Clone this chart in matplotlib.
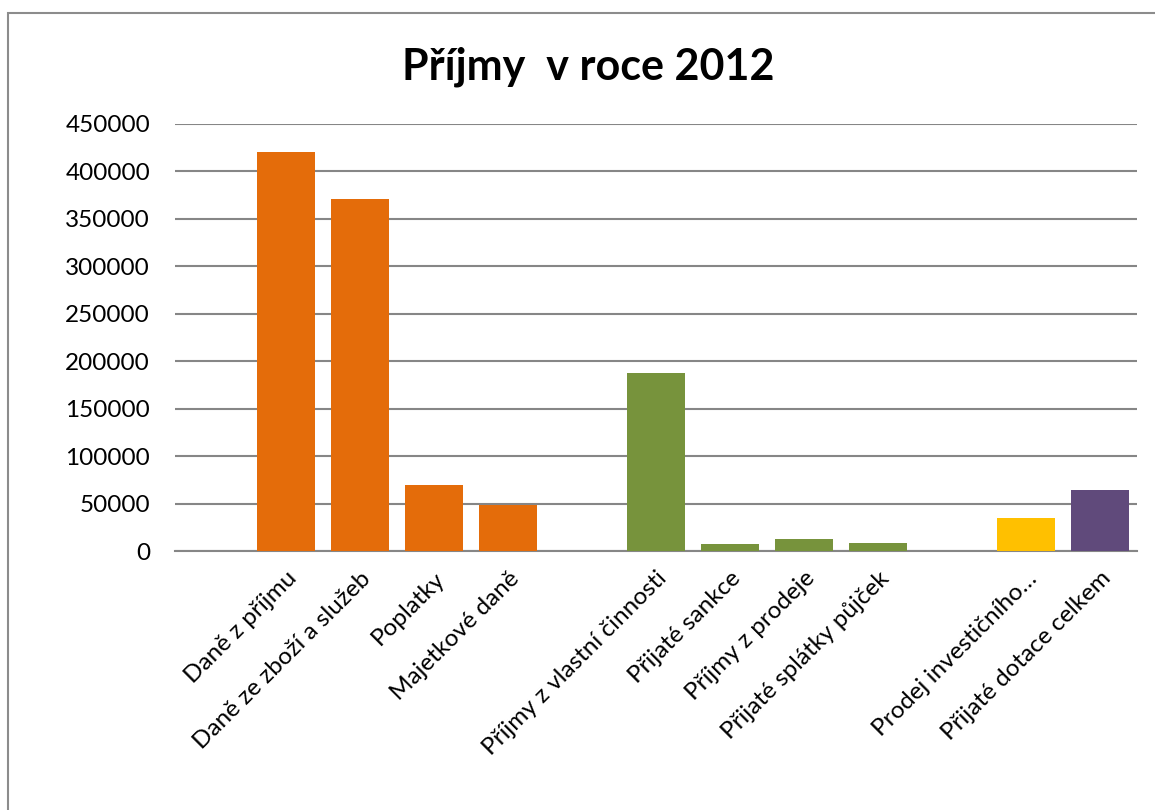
import matplotlib.pyplot as plt
from matplotlib.patches import Rectangle

# data
categories = ['', 'Daně z příjmu', 'Daně ze zboží a služeb', 'Poplatky', 'Majetkové daně', '',
              'Příjmy z vlastní činnosti', 'Přijaté sankce', 'Příjmy z prodeje',
              'Přijaté splátky půjček', '', 'Prodej investičního…', 'Přijaté dotace celkem']
values = [0, 421000, 370500, 69500, 49000, 0, 187500, 7000, 13000, 8000, 0, 35000, 64300]
colors = ['none', '#E46C0A', '#E46C0A', '#E46C0A', '#E46C0A', 'none',
          '#77933C', '#77933C', '#77933C', '#77933C', 'none', '#FFC000', '#604A7B']
yticks = list(range(0, 450001, 50000))

plt.rcParams['font.family'] = ['Lato', 'DejaVu Sans']

W, H = 1155, 810
fig = plt.figure(figsize=(W / 100, H / 100), dpi=100)
ax = fig.add_axes([175 / W, 1 - 551 / H, (1137 - 175) / W, (551 - 124) / H])

# chart frame
fig.add_artist(Rectangle((8 / W, -0.1), 1.2, (H - 13) / H + 0.1, transform=fig.transFigure,
                         fill=False, edgecolor='#8c8c8c', linewidth=1.5, clip_on=False))

x = list(range(len(categories)))
ax.bar(x, values, width=0.78, color=colors, zorder=3)

ax.set_xlim(-0.5, len(categories) - 0.5)
ax.set_ylim(0, 450000)
ax.set_yticks(yticks)
ax.set_yticklabels([str(v) for v in yticks], fontsize=17.5)
ax.grid(axis='y', color='#868686', linewidth=1.5, zorder=0)
for s in ['top', 'right', 'left']:
    ax.spines[s].set_visible(False)
ax.spines['bottom'].set_color('#868686')
ax.spines['bottom'].set_linewidth(1.5)
ax.tick_params(axis='y', length=0, pad=18)
ax.tick_params(axis='x', length=0, pad=12)

ax.set_xticks(x)
ax.set_xticklabels(categories, rotation=45, ha='right', rotation_mode='anchor', fontsize=17.5)

fig.text(588 / W, 1 - 67 / H, 'Příjmy  v roce 2012', ha='center', va='center',
         fontsize=31, fontweight='bold')

fig.savefig('out.png', dpi=100)
